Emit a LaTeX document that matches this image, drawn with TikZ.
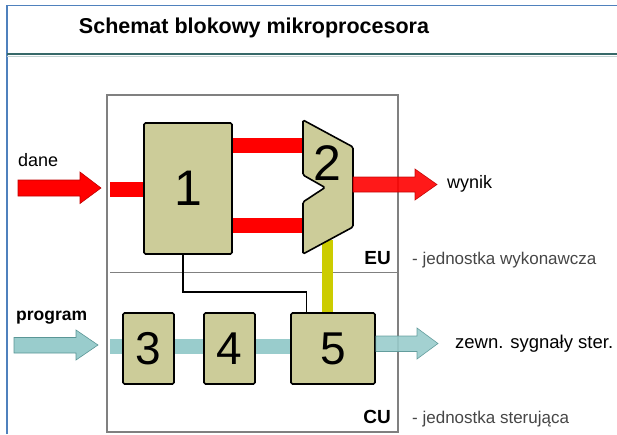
\documentclass[tikz,border=0pt]{standalone}
\usepackage{fontspec}
\setmainfont{Liberation Sans}
\definecolor{khaki}{RGB}{204,204,153}
\definecolor{tealbar}{RGB}{153,204,204}
\definecolor{tealedge}{RGB}{90,150,150}
\definecolor{rededge}{RGB}{190,0,0}
\definecolor{yelcol}{RGB}{204,204,0}
\definecolor{frameblue}{RGB}{79,129,189}
\definecolor{sepcol}{RGB}{55,105,105}
\definecolor{boxgray}{RGB}{128,128,128}
\definecolor{labgray}{RGB}{70,70,70}
\begin{document}
\begin{tikzpicture}[x=1pt,y=-1pt,
  blk/.style={draw=black, line width=1.6pt, fill=khaki, rounded corners=1.5pt, inner sep=0pt},
  bignum/.style={font=\fontsize{50}{50}\selectfont},
  midnum/.style={font=\fontsize{46}{46}\selectfont},
  redbar/.style={draw=red, line width=15pt},
  tealbarline/.style={draw=tealbar, line width=15pt},
  yelbar/.style={draw=yelcol, line width=11pt},
  redarrow/.style={fill=red, draw=rededge, line width=0.6pt},
  tealarrow/.style={fill=tealbar, draw=tealedge, line width=0.6pt},
  lbl/.style={font=\fontsize{18}{18}\selectfont, inner sep=0pt},
  desc/.style={font=\fontsize{17}{17}\selectfont, text=labgray, inner sep=0pt},
  unit/.style={font=\fontsize{19}{19}\selectfont\bfseries, inner sep=0pt}
]
\useasboundingbox (0,0) rectangle (617,434);
% page frame
\draw[frameblue, line width=1.5pt] (7,434) -- (7,5.5) -- (617,5.5);
\draw[sepcol, line width=2.5pt] (7,54) -- (617,54);
\draw[sepcol!30, line width=1pt] (7,56) -- (617,56);
\node[anchor=base, font=\fontsize{21.5}{21.5}\selectfont\bfseries, inner sep=0pt] (title) at (254,33) {Schemat blokowy mikroprocesora};

% outer box
\draw[boxgray, line width=2pt] (107,95) rectangle (398,432);
\draw[boxgray, line width=1.5pt] (110,272.5) -- (398,272.5);

% blocks
\node[blk, bignum, minimum width=88pt, minimum height=131pt] (b1) at (188,188.5) {1};

% ALU coordinates
\coordinate (aTL) at (303,120);
\coordinate (aTR) at (353,147);
\coordinate (aBR) at (353,227);
\coordinate (aBL) at (303,254);
\coordinate (aN1) at (303,175);
\coordinate (aN) at (325,187.5);
\coordinate (aN2) at (303,202);
\coordinate (aIn1) at (303,145.5);
\coordinate (aIn2) at (303,225.5);
\coordinate (aOut) at (353,184.5);
\coordinate (aBot) at (327.5,240);

% buses (drawn under blocks)
\coordinate (boxL) at (110,189);
\draw[redbar] (boxL) -- (b1.west |- boxL);
\draw[redbar] (b1.east |- aIn1) -- (aIn1);
\draw[redbar] (b1.east |- aIn2) -- (aIn2);
\coordinate (boxL2) at (110,346.5);
\draw[tealbarline] (boxL2) -- (297,346.5);
\draw[yelbar] (aBot) -- (327.5,313);

% blocks of CU over teal bar
\node[blk, midnum, minimum width=51pt, minimum height=71pt] (b3) at (148.5,348.5) {3};
\node[blk, midnum, minimum width=51pt, minimum height=71pt] (b4) at (229.5,348.5) {4};
\node[blk, midnum, minimum width=84pt, minimum height=71pt] (b5) at (333,348.5) {5};

% ALU shape
\draw[blk] (aTL) -- (aTR) -- (aBR) -- (aBL) -- (aN2) -- (aN) -- (aN1) -- cycle;
\node[bignum, inner sep=0pt] (b2) at (327,163) {2};

% control wire from 1 to 5
\coordinate (w1) at (183,292);
\draw[black, line width=1.8pt] (b1.south -| w1) -- (w1) -- (306.5,292) -- (b5.north -| 306.5,0);

% input arrows
\draw[redarrow] (18,180) -- (80,180) -- (80,172) -- (101,188) -- (80,203.5) -- (80,196) -- (18,196) -- cycle;
\node[lbl, anchor=base west] (dane) at (18,166) {dane};
\draw[tealarrow] (14,337.5) -- (76,337.5) -- (76,330) -- (98,345) -- (76,360) -- (76,353) -- (14,353) -- cycle;
\node[lbl, font=\fontsize{17.5}{17.5}\selectfont\bfseries, anchor=base west] (prog) at (16,320) {program};

% output arrows (semi-transparent over box border)
\draw[redarrow, fill opacity=0.9, draw opacity=0.9] (aOut |- 0,177) -- (415,177) -- (415,169) -- (437,184.5) -- (415,200) -- (415,192) -- (aOut |- 0,192) -- cycle;
\node[lbl, anchor=base west] (wynik) at (447,188) {wynik};
\draw[tealarrow, fill opacity=0.9, draw opacity=0.9] (b5.east |- 0,336) -- (417,336) -- (417,328) -- (438,343.5) -- (417,359) -- (417,351.5) -- (b5.east |- 0,351.5) -- cycle;
\node[lbl, font=\fontsize{18.5}{18.5}\selectfont, anchor=base west] (zewn) at (455,348) {zewn. sygnały ster.};

% unit labels
\node[unit, anchor=base east] (eu) at (391,264) {EU};
\node[desc, anchor=base west] (eud) at (412,264) {- jednostka wykonawcza};
\node[unit, anchor=base east] (cu) at (391,423) {CU};
\node[desc, anchor=base west] (cud) at (412,423) {- jednostka sterująca};
\end{tikzpicture}
\end{document}
